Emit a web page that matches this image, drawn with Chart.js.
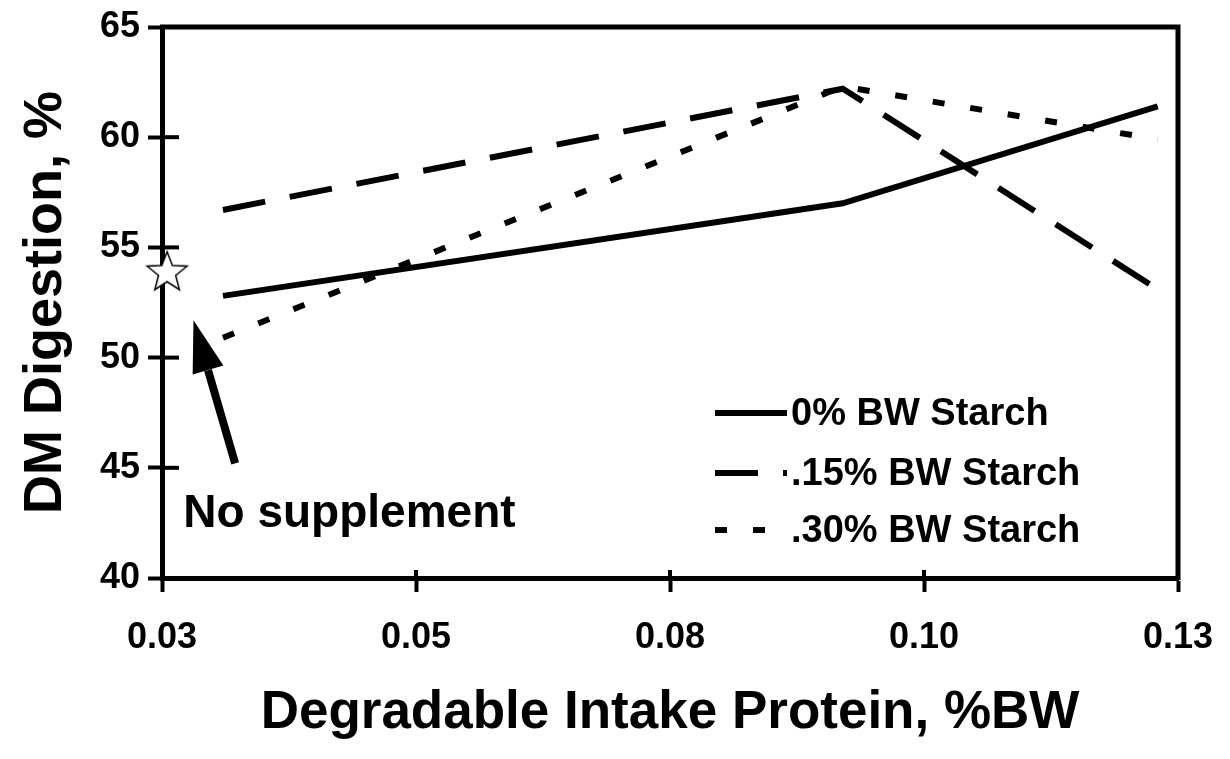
<!DOCTYPE html>
<html lang="en">
<head>
<meta charset="UTF-8">
<title>DM Digestion vs Degradable Intake Protein</title>
<style>
    body {
        margin: 0;
        background: white;
    }

    .chart-box {
        width: 1230px;
        height: 759px;
    }
</style>
</head>
<body>
<div class="chart-box"><canvas id="digChart"></canvas></div>

<script src="https://cdn.jsdelivr.net/npm/chart.js"></script>
<script>
    // values
    const dipLevels = [0.031, 0.092, 0.123];
    const starch0 = [52.8, 57.0, 61.4];
    const starch15 = [56.7, 62.2, 53.1];
    const starch30 = [50.9, 62.3, 59.9];
    const seriesNames = ['0% BW Starch', '.15% BW Starch', '.30% BW Starch'];

    const xTickValues = [0.025, 0.05, 0.075, 0.1, 0.125];
    const xTickLabels = ['0.03', '0.05', '0.08', '0.10', '0.13'];
    const yTickLabels = ['40', '45', '50', '55', '60', '65'];

    // "no supplement" point and its note
    const noSuppX = [0.0255];
    const noSuppY = [53.9];
    const noteText = 'No supplement';
    const notePos = { x: 0.0271, y: 42.3 };
    const arrowFrom = { x: 0.0322, y: 45.2 };
    const arrowTo = { x: 0.0281, y: 51.7 };

    const FONT = "'Liberation Sans', Arial, sans-serif";

    function pairs(xs, ys) {
        return xs.map((x, i) => ({ x: x, y: ys[i] }));
    }

    // outlined star used as the point style
    function starImage() {
        const c = document.createElement('canvas');
        c.width = c.height = 48;
        const g = c.getContext('2d');
        const R = 21, r = 9;
        g.beginPath();
        for (let i = 0; i < 10; i++) {
            const rad = i % 2 ? r : R;
            const a = -Math.PI / 2 + i * Math.PI / 5;
            const px = 24 + rad * Math.cos(a), py = 25 + rad * Math.sin(a);
            if (i === 0) g.moveTo(px, py); else g.lineTo(px, py);
        }
        g.closePath();
        g.fillStyle = 'white';
        g.fill();
        g.lineWidth = 1.5;
        g.strokeStyle = 'black';
        g.stroke();
        return c;
    }

    // top/right frame plus the inner halves of the tick marks
    const frame = {
        id: 'frame',
        beforeDatasetsDraw(chart) {
            const { ctx, chartArea: a, scales } = chart;
            ctx.save();
            ctx.strokeStyle = 'black';
            ctx.lineWidth = 5;
            ctx.beginPath();
            ctx.moveTo(a.left - 2, a.top);
            ctx.lineTo(a.right, a.top);
            ctx.lineTo(a.right, a.bottom + 2);
            ctx.stroke();
            ctx.lineWidth = 4;
            scales.y.ticks.forEach((t, i) => {
                const py = scales.y.getPixelForTick(i);
                ctx.beginPath();
                ctx.moveTo(a.left, py);
                ctx.lineTo(a.left + 17, py);
                ctx.stroke();
            });
            scales.x.ticks.forEach((t, i) => {
                const px = scales.x.getPixelForTick(i);
                ctx.beginPath();
                ctx.moveTo(px, a.bottom);
                ctx.lineTo(px, a.bottom - 8);
                ctx.stroke();
            });
            ctx.restore();
        }
    };

    // arrow + note, and the legend inside the plot
    const extras = {
        id: 'extras',
        afterDatasetsDraw(chart) {
            const { ctx, chartArea: a, scales: { x, y } } = chart;
            ctx.save();

            const x1 = x.getPixelForValue(arrowFrom.x), y1 = y.getPixelForValue(arrowFrom.y);
            const x2 = x.getPixelForValue(arrowTo.x), y2 = y.getPixelForValue(arrowTo.y);
            const ang = Math.atan2(y2 - y1, x2 - x1);
            const headLen = 52, headHalf = 16;
            const bx = x2 - headLen * Math.cos(ang), by = y2 - headLen * Math.sin(ang);
            ctx.strokeStyle = 'black';
            ctx.fillStyle = 'black';
            ctx.lineWidth = 8;
            ctx.beginPath();
            ctx.moveTo(x1, y1);
            ctx.lineTo(bx, by);
            ctx.stroke();
            ctx.beginPath();
            ctx.moveTo(x2, y2);
            ctx.lineTo(bx + headHalf * Math.sin(ang), by - headHalf * Math.cos(ang));
            ctx.lineTo(bx - headHalf * Math.sin(ang), by + headHalf * Math.cos(ang));
            ctx.closePath();
            ctx.fill();

            ctx.font = 'bold 46px ' + FONT;
            ctx.textBaseline = 'alphabetic';
            ctx.textAlign = 'left';
            ctx.fillText(noteText, x.getPixelForValue(notePos.x), y.getPixelForValue(notePos.y));

            // legend
            const lx = a.right - 463;
            const rows = [386, 446, 503];
            ctx.font = 'bold 38px ' + FONT;
            ctx.textBaseline = 'middle';
            chart.data.datasets.slice(0, 3).forEach((ds, i) => {
                const ly = a.top + rows[i];
                ctx.lineWidth = 6;
                ctx.setLineDash(ds.borderDash || []);
                ctx.beginPath();
                ctx.moveTo(lx, ly);
                ctx.lineTo(lx + 72, ly);
                ctx.stroke();
                ctx.setLineDash([]);
                ctx.fillText(ds.label, lx + 76, ly + 2);
            });
            ctx.restore();
        }
    };

    const ctx = document.getElementById('digChart').getContext('2d');

    new Chart(ctx, {
        type: 'line',
        data: {
            datasets: [
                {
                    label: seriesNames[0],
                    data: pairs(dipLevels, starch0),
                    borderColor: 'black',
                    borderWidth: 6,
                    pointRadius: 0
                },
                {
                    label: seriesNames[1],
                    data: pairs(dipLevels, starch15),
                    borderColor: 'black',
                    borderWidth: 6,
                    borderDash: [43, 25],
                    pointRadius: 0
                },
                {
                    label: seriesNames[2],
                    data: pairs(dipLevels, starch30),
                    borderColor: 'black',
                    borderWidth: 6,
                    borderDash: [12, 26],
                    pointRadius: 0
                },
                {
                    label: 'No supplement',
                    data: pairs(noSuppX, noSuppY),
                    showLine: false,
                    pointStyle: starImage(),
                    pointRadius: 24,
                    clip: false
                }
            ]
        },
        options: {
            responsive: true,
            maintainAspectRatio: false,
            animation: false,
            layout: {
                padding: { top: 27, right: 52, left: 0, bottom: 0 }
            },
            plugins: {
                legend: { display: false },
                tooltip: { enabled: false }
            },
            scales: {
                x: {
                    type: 'linear',
                    min: 0.025,
                    max: 0.125,
                    afterBuildTicks: (s) => {
                        s.ticks = xTickValues.map(v => ({ value: v }));
                    },
                    afterFit: (s) => { s.height = 181; },
                    ticks: {
                        color: 'black',
                        padding: 4,
                        maxRotation: 0,
                        font: { family: FONT, size: 36, weight: 'bold', lineHeight: 2.33 },
                        callback: (v, i) => xTickLabels[i]
                    },
                    grid: {
                        drawOnChartArea: false,
                        tickLength: 14,
                        tickWidth: 4,
                        tickColor: 'black'
                    },
                    border: { color: 'black', width: 5 },
                    title: {
                        display: true,
                        text: 'Degradable Intake Protein, %BW',
                        color: 'black',
                        font: { family: FONT, size: 53, weight: 'bold' },
                        padding: { top: 0, bottom: 14 }
                    }
                },
                y: {
                    min: 40,
                    max: 65,
                    afterFit: (s) => { s.width = 162; },
                    ticks: {
                        stepSize: 5,
                        color: 'black',
                        padding: 8,
                        font: { family: FONT, size: 36, weight: 'bold', lineHeight: 1 },
                        callback: (v, i) => yTickLabels[i]
                    },
                    grid: {
                        drawOnChartArea: false,
                        tickLength: 14,
                        tickWidth: 4,
                        tickColor: 'black'
                    },
                    border: { color: 'black', width: 5 },
                    title: {
                        display: true,
                        text: 'DM Digestion, %',
                        color: 'black',
                        font: { family: FONT, size: 54, weight: 'bold' },
                        padding: { top: 14, bottom: 0 }
                    }
                }
            }
        },
        plugins: [frame, extras]
    });
</script>
</body>
</html>
